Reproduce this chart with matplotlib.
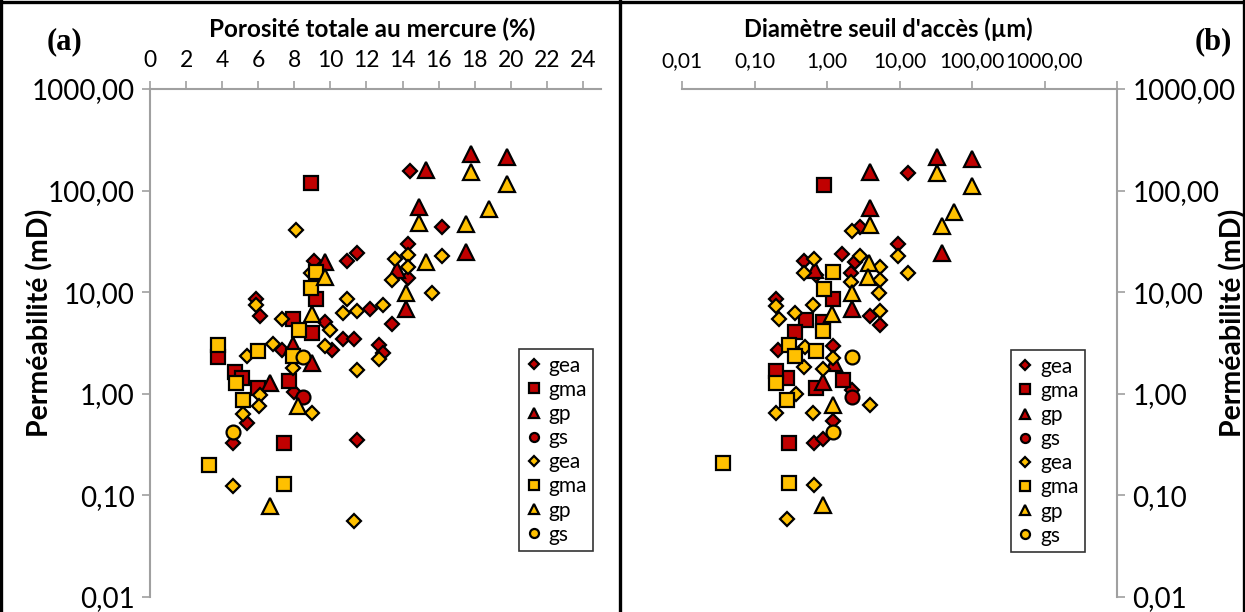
import matplotlib
matplotlib.use("Agg")
import matplotlib.pyplot as plt
from matplotlib.lines import Line2D
from matplotlib.ticker import FixedLocator, FixedFormatter, NullLocator

plt.rcParams['font.family'] = ['Lato', 'DejaVu Sans']

RED = '#C00000'
YELLOW = '#FFC000'
GREY = '#A0A0A0'

series_labels = ['gea', 'gma', 'gp', 'gs', 'gea', 'gma', 'gp', 'gs']
series_markers = ['D', 's', '^', 'o', 'D', 's', '^', 'o']
series_colors = [RED] * 4 + [YELLOW] * 4

# ---- (a) porosity (%) vs permeability (mD)
por_gea_r = [14.4, 14.3, 11.5, 10.9, 9.1, 14.3, 5.9, 6.1, 12.2, 13.4, 9.7, 10.7, 11.3,
             12.7, 7.3, 10.1, 12.9, 8.0, 5.4, 4.6, 11.5, 16.2]
perm_gea_r = [156, 29.8, 24.1, 20.4, 20.4, 13.7, 8.6, 5.8, 6.8, 4.9, 5.1, 3.5, 3.5,
              3.0, 2.7, 2.7, 2.5, 1.05, 0.52, 0.33, 0.35, 44.1]
por_gma_r = [8.9, 9.2, 7.9, 9.0, 3.75, 4.7, 5.1, 6.0, 7.7, 7.45]
perm_gma_r = [118, 8.5, 5.5, 4.0, 2.3, 1.65, 1.42, 1.13, 1.34, 0.33]
por_gp_r = [9.7, 13.7, 14.2, 7.95, 9.0, 6.65, 15.3, 17.8, 19.8, 14.9, 17.5]
perm_gp_r = [19.7, 16.5, 6.9, 3.0, 2.0, 1.29, 160, 228, 216, 69.5, 25]
por_gs_r = [8.5]
perm_gs_r = [0.92]
por_gea_y = [8.1, 13.6, 14.3, 14.3, 13.4, 8.9, 5.9, 10.9, 10.7, 11.5, 12.9, 7.3, 10.0,
             5.35, 6.8, 7.95, 9.7, 12.7, 11.5, 6.1, 6.05, 9.0, 5.15, 4.6, 11.3, 16.2, 15.65]
perm_gea_y = [41, 21.1, 23.2, 17.8, 13.2, 15.3, 7.4, 8.5, 6.3, 6.6, 7.4, 5.5, 4.25,
              2.36, 3.07, 1.78, 2.95, 2.19, 1.71, 0.97, 0.76, 0.64, 0.63, 0.124, 0.056, 22.9, 9.9]
por_gma_y = [9.2, 8.9, 8.25, 3.75, 6.0, 7.95, 4.75, 5.15, 3.25, 7.45]
perm_gma_y = [15.9, 10.9, 4.2, 3.0, 2.66, 2.36, 1.27, 0.87, 0.20, 0.129]
por_gp_y = [9.7, 14.2, 9.0, 8.2, 6.65, 17.8, 19.8, 18.8, 14.9, 17.5, 15.3]
perm_gp_y = [14.2, 9.9, 6.1, 0.76, 0.078, 153, 116, 65.5, 47.6, 46.9, 19.7]
por_gs_y = [8.5, 4.6]
perm_gs_y = [2.29, 0.42]

# ---- (b) pore throat diameter (um) vs permeability (mD)
dia_gea_r = [12.98, 2.85, 9.43, 1.60, 2.44, 2.15, 3.92, 5.39, 0.48, 0.705, 0.195,
             0.213, 1.20, 2.18, 1.20, 0.669, 0.887]
kb_gea_r = [150, 43.5, 29.6, 23.6, 19.7, 15.3, 5.8, 4.75, 20.3, 14.7, 8.57,
            2.7, 2.95, 1.09, 0.54, 0.33, 0.36]
dia_gma_r = [0.912, 1.20, 0.508, 0.887, 0.362, 0.279, 0.195, 1.64, 0.705, 0.300]
kb_gma_r = [113, 8.5, 5.3, 5.1, 4.03, 1.42, 1.69, 1.37, 1.13, 0.33]
dia_gp_r = [32.6, 99.2, 3.92, 3.92, 38.9, 0.684, 2.18, 0.887, 1.23]
kb_gp_r = [216, 203, 153, 67, 24.5, 16.5, 6.9, 1.3, 2.0]
dia_gs_r = [2.18]
kb_gs_r = [0.94]
dia_gea_y = [2.18, 9.43, 12.98, 2.85, 5.39, 5.39, 2.15, 5.26, 5.39, 0.669, 0.48, 0.647,
             0.195, 0.217, 0.362, 0.499, 1.20, 0.48, 0.887, 0.371, 3.92, 0.195, 0.647,
             0.664, 0.279]
kb_gea_y = [40, 22.7, 15.6, 22.9, 17.8, 13.2, 12.7, 9.9, 6.6, 21.1, 15.3, 7.4,
            7.3, 5.45, 6.2, 2.91, 2.24, 1.82, 1.74, 1.0, 0.78, 0.64, 0.64, 0.128, 0.059]
dia_gma_y = [1.20, 0.918, 0.887, 0.300, 0.705, 0.362, 0.195, 0.279, 0.0372, 0.300]
kb_gma_y = [15.9, 10.7, 4.16, 3.02, 2.66, 2.36, 1.27, 0.87, 0.207, 0.133]
dia_gp_y = [32.6, 99.2, 3.92, 57.1, 38.9, 3.83, 3.73, 2.18, 1.16, 1.20, 0.887]
kb_gp_y = [150, 111, 45.8, 62, 44.9, 19.2, 14.2, 9.8, 6.06, 0.78, 0.081]
dia_gs_y = [2.18, 1.20]
kb_gs_y = [2.32, 0.42]

perm_ticks = [0.01, 0.1, 1, 10, 100, 1000]
perm_ticklabels = ['0,01', '0,10', '1,00', '10,00', '100,00', '1000,00']
por_ticks = list(range(0, 25, 2))
# last tick (10000) sits where the vertical axis crosses; its label is hidden in the source
dia_ticks = [0.01, 0.1, 1, 10, 100, 1000, 10000]
dia_ticklabels = ['0,01', '0,10', '1,00', '10,00', '100,00', '1000,00', '']

panel_a = [(por_gea_r, perm_gea_r), (por_gma_r, perm_gma_r), (por_gp_r, perm_gp_r),
           (por_gs_r, perm_gs_r), (por_gea_y, perm_gea_y), (por_gma_y, perm_gma_y),
           (por_gp_y, perm_gp_y), (por_gs_y, perm_gs_y)]
panel_b = [(dia_gea_r, kb_gea_r), (dia_gma_r, kb_gma_r), (dia_gp_r, kb_gp_r),
           (dia_gs_r, kb_gs_r), (dia_gea_y, kb_gea_y), (dia_gma_y, kb_gma_y),
           (dia_gp_y, kb_gp_y), (dia_gs_y, kb_gs_y)]

msize = {'D': 7.5, 's': 10.5, '^': 11, 'o': 10}

W, H = 1245, 612
fig = plt.figure(figsize=(W / 100, H / 100), dpi=100)


def box(x0, x1, y0, y1):
    return [x0 / W, 1 - y1 / H, (x1 - x0) / W, (y1 - y0) / H]


ax1 = fig.add_axes(box(150, 601, 89, 597))
ax2 = fig.add_axes(box(682, 1117, 89, 597))


def scatter_panel(ax, data):
    for (xs, ys), lab, mk, col in zip(data, series_labels, series_markers, series_colors):
        ax.plot(xs, ys, linestyle='none', marker=mk, markersize=msize[mk],
                markerfacecolor=col, markeredgecolor='black', markeredgewidth=1.6,
                label=lab, clip_on=False)


def style_axes(ax, side, xsize):
    ax.set_yscale('log')
    ax.set_ylim(0.01, 1000)
    ax.yaxis.set_major_locator(FixedLocator(perm_ticks))
    ax.yaxis.set_major_formatter(FixedFormatter(perm_ticklabels))
    ax.yaxis.set_minor_locator(NullLocator())
    ax.xaxis.set_minor_locator(NullLocator())
    ax.xaxis.tick_top()
    for s in ax.spines.values():
        s.set_visible(False)
    ax.spines['top'].set_visible(True)
    ax.spines[side].set_visible(True)
    for s in ('top', side):
        ax.spines[s].set_color(GREY)
        ax.spines[s].set_linewidth(1.5)
    if side == 'right':
        ax.yaxis.tick_right()
    ax.tick_params(which='major', direction='out', length=6, width=1.2, color=GREY, pad=5)
    ax.tick_params(axis='y', labelsize=20)
    ax.tick_params(axis='x', labelsize=xsize, pad=7)
    ax.set_facecolor('none')


scatter_panel(ax1, panel_a)
style_axes(ax1, 'left', 16.5)
ax1.set_xlim(0, 25)
ax1.set_xticks(por_ticks)
ax1.set_xticklabels([str(v) for v in por_ticks])

scatter_panel(ax2, panel_b)
style_axes(ax2, 'right', 15)
ax2.set_xscale('log')
ax2.set_xlim(0.01, 10000)
ax2.xaxis.set_major_locator(FixedLocator(dia_ticks))
ax2.xaxis.set_major_formatter(FixedFormatter(dia_ticklabels))
ax2.xaxis.set_minor_locator(NullLocator())

fig.text(372 / W, 1 - 29 / H, 'Porosité totale au mercure (%)', ha='center', va='center',
         fontsize=17.5, fontweight='bold')
fig.text(888 / W, 1 - 29 / H, "Diamètre seuil d'accès (µm)", ha='center', va='center',
         fontsize=17, fontweight='bold')
fig.text(40 / W, 1 - 323 / H, 'Perméabilité (mD)', ha='center', va='center',
         rotation=90, fontsize=20.5, fontweight='bold')
fig.text(1233 / W, 1 - 323 / H, 'Perméabilité (mD)', ha='center', va='center',
         rotation=90, fontsize=20.5, fontweight='bold')
fig.text(65 / W, 1 - 42 / H, '(a)', ha='center', va='center', fontsize=22,
         fontweight='bold', family='Liberation Serif')
fig.text(1213 / W, 1 - 42 / H, '(b)', ha='center', va='center', fontsize=22,
         fontweight='bold', family='Liberation Serif')

for ax, anchor in ((ax1, (0.819, 0.0906)), (ax2, (0.756, 0.0886))):
    leg = ax.legend(loc='lower left', bbox_to_anchor=anchor, fontsize=15, frameon=True,
                    fancybox=False, edgecolor='black', markerscale=0.65, handlelength=0.8,
                    handletextpad=0.3, labelspacing=0.2, borderpad=0.3,
                    borderaxespad=0)
    leg.get_frame().set_linewidth(1.2)

# outer frame and divider
for xs, ys in (([1, 1], [0, H]), ([1243.5, 1243.5], [0, H]), ([0, W], [1.5, 1.5]),
               ([620, 620], [0, H])):
    fig.add_artist(Line2D([x / W for x in xs], [1 - y / H for y in ys],
                          color='black', linewidth=2.4))

fig.savefig('out.png', dpi=100)
